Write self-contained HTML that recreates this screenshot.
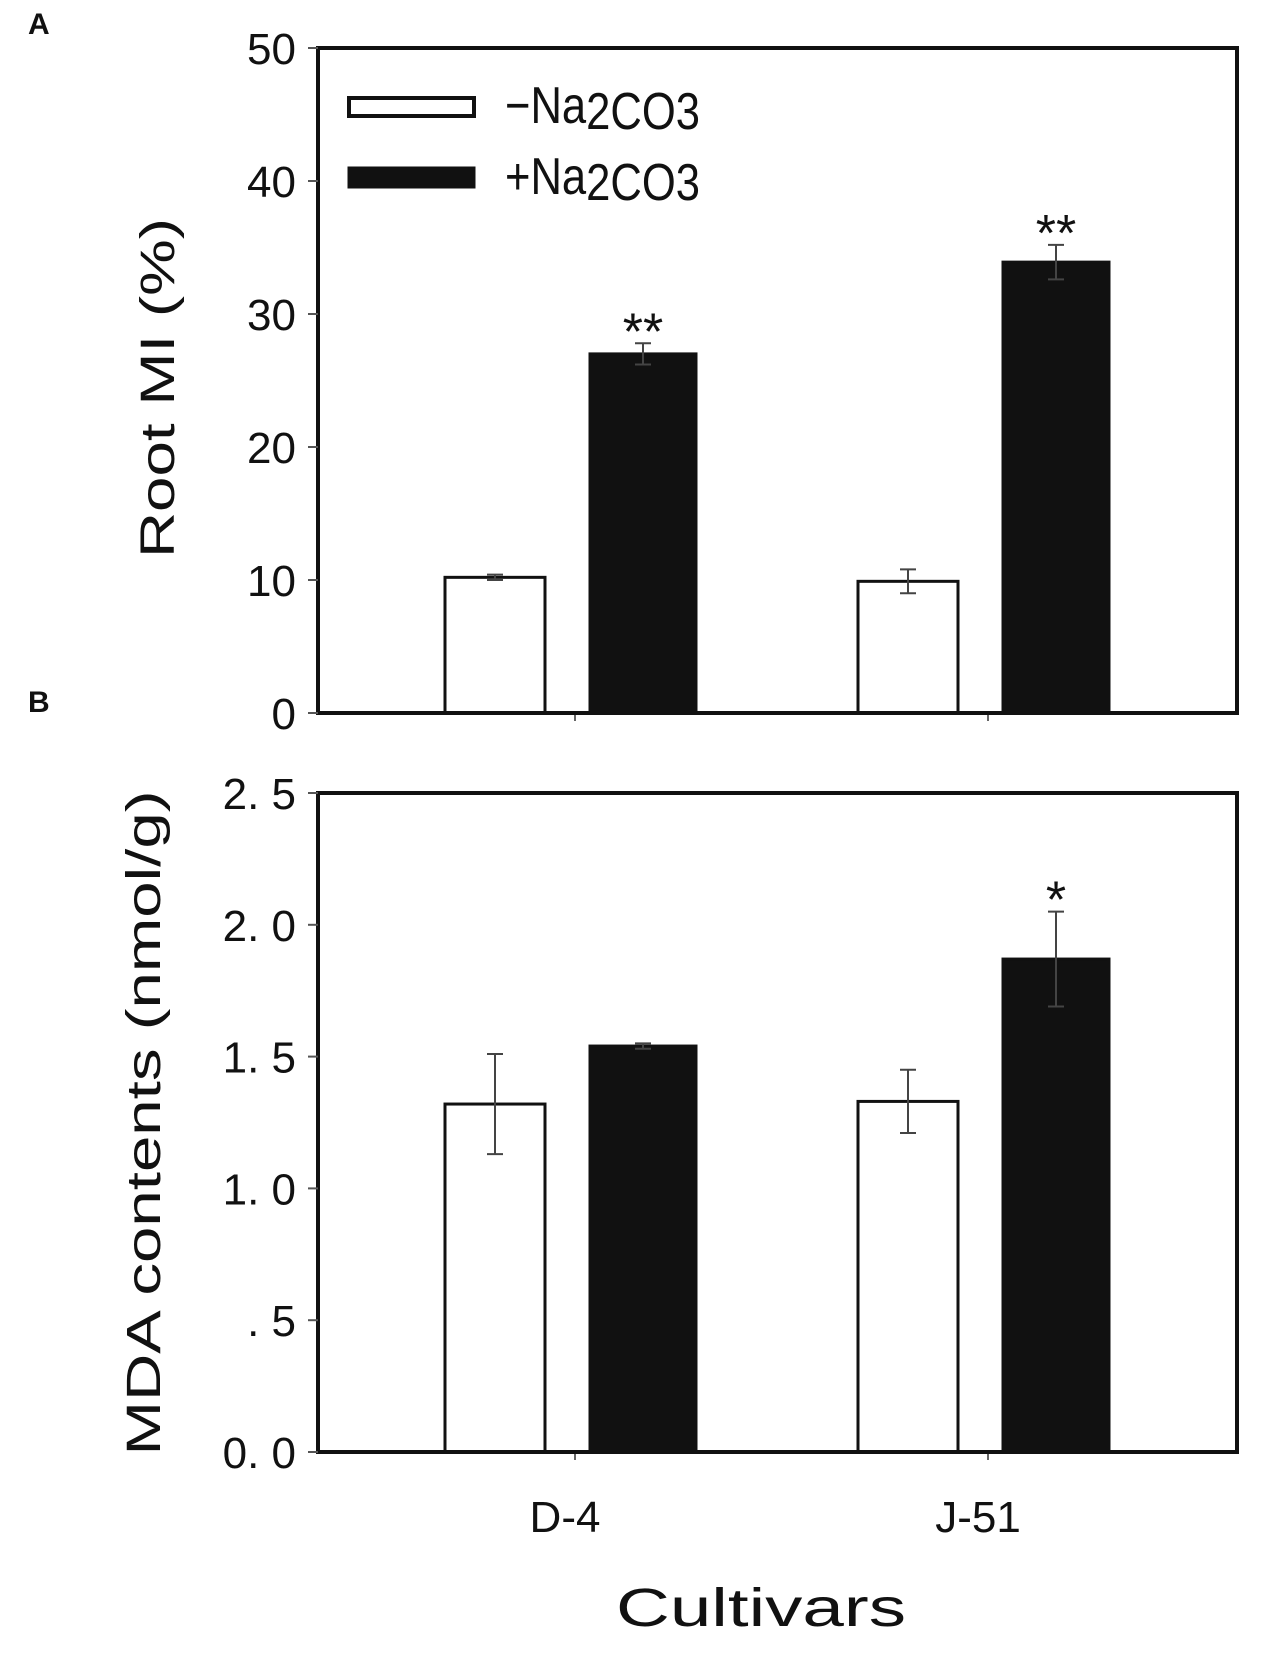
<!DOCTYPE html>
<html><head><meta charset="utf-8"><style>
html,body{margin:0;padding:0;background:#fff}
svg text{font-family:"Liberation Sans","Noto Sans CJK JP",sans-serif;fill:#111}
</style></head><body>
<svg id="chart" width="1266" height="1656" viewBox="0 0 1266 1656" xmlns="http://www.w3.org/2000/svg">
<text x="28" y="34" font-size="30" font-weight="bold">A</text>
<text x="28" y="712" font-size="30" font-weight="bold">B</text>
<g id="gA"></g>
<g id="gB"></g>
<g>
<rect x="349" y="98" width="125" height="18" fill="#fff" stroke="#111" stroke-width="4"/>
<rect x="349" y="168" width="125" height="19" fill="#111" stroke="#111" stroke-width="3"/>
<text x="505" y="123" font-size="52" textLength="195" lengthAdjust="spacingAndGlyphs">−Na<tspan font-size="52" dy="6">2CO3</tspan></text>
<text x="505" y="194" font-size="52" textLength="195" lengthAdjust="spacingAndGlyphs">+Na<tspan dy="6">2CO3</tspan></text>
</g>
<text x="761" y="1626" font-size="54" text-anchor="middle" textLength="290" lengthAdjust="spacingAndGlyphs">Cultivars</text>
</svg>
<script>
const categories=["D-4","J-51"];
const miControl=[10.2,9.9];
const miControlErr=[0.2,0.9];
const miTreated=[27.0,33.9];
const miTreatedErr=[0.8,1.3];
const miSig=["**","**"];
const mdaControl=[1.32,1.33];
const mdaControlErr=[0.19,0.12];
const mdaTreated=[1.54,1.87];
const mdaTreatedErr=[0.01,0.18];
const mdaSig=["","*"];
const ticksA=[0,10,20,30,40,50];
const tickLabelsA=["0","10","20","30","40","50"];
const ticksB=[0,0.5,1.0,1.5,2.0,2.5];
const tickLabelsB=["0. 0",". 5","1. 0","1. 5","2. 0","2. 5"];
const NS="http://www.w3.org/2000/svg";
function mk(p,t,a,txt){const e=document.createElementNS(NS,t);for(const k in a)e.setAttribute(k,a[k]);if(txt!==undefined)e.textContent=txt;p.appendChild(e);return e;}
const L=318,R=1237;
const catX=[575,988];
function xCat(i){return catX[i];}
function panel(g,top,bot,max,ticks,labels,c,ce,t,te,sig,title,showX){
 const y=v=>bot-(v/max)*(bot-top);
 for(let i=0;i<categories.length;i++){
  const cx=xCat(i);
  const b1=mk(g,'rect',{x:cx-130,y:y(c[i]),width:100,height:bot-y(c[i]),fill:'#fff',stroke:'#111','stroke-width':3});
  
  
  const b2=mk(g,'rect',{x:cx+15,y:y(t[i]),width:106,height:bot-y(t[i]),fill:'#111',stroke:'#111','stroke-width':3});
  
  
  [[cx-80,c[i],ce[i]],[cx+68,t[i],te[i]]].forEach(([ex,v,e])=>{
   const eg=mk(g,'path',{d:`M${ex} ${y(v+e)}V${y(v-e)}M${ex-8} ${y(v+e)}H${ex+8}M${ex-8} ${y(v-e)}H${ex+8}`,stroke:'#444','stroke-width':2,fill:'none'});
   
   
  });
  if(sig[i]){const s=mk(g,'text',{x:cx+68,y:y(t[i]+te[i])+6,'font-size':52,'text-anchor':'middle'},sig[i]);
   
   }
  const tk=mk(g,'line',{x1:cx,x2:cx,y1:bot,y2:bot+8,stroke:'#666','stroke-width':2});
  
  
  if(showX){const xl=mk(g,'text',{x:cx-10,y:bot+80,'font-size':44,'text-anchor':'middle'},categories[i]);
   
   }
 }
 const fr=mk(g,'rect',{x:L,y:top,width:R-L,height:bot-top,fill:'none',stroke:'#111','stroke-width':4});
 
 
 ticks.forEach((v,i)=>{
  const tl=mk(g,'line',{x1:L-10,x2:L,y1:y(v),y2:y(v),stroke:'#555','stroke-width':2});
  
  
  const tx=mk(g,'text',{x:296,y:y(v)+16,'font-size':44,'text-anchor':'end'},labels[i]);
  
  
 });
 const cy=title[3];
 const tt=mk(g,'text',{x:0,y:0,'font-size':48,'text-anchor':'middle',textLength:title[2],lengthAdjust:'spacingAndGlyphs',transform:`translate(${title[1]},${cy}) rotate(-90)`},title[0]);
 
 
}
panel(document.getElementById('gA'),48,713,50,ticksA,tickLabelsA,miControl,miControlErr,miTreated,miTreatedErr,miSig,["Root MI (%)",174,340,388],false);
panel(document.getElementById('gB'),793,1452,2.5,ticksB,tickLabelsB,mdaControl,mdaControlErr,mdaTreated,mdaTreatedErr,mdaSig,["MDA contents (nmol/g)",160,665,1123],true);
</script>
</body></html>
